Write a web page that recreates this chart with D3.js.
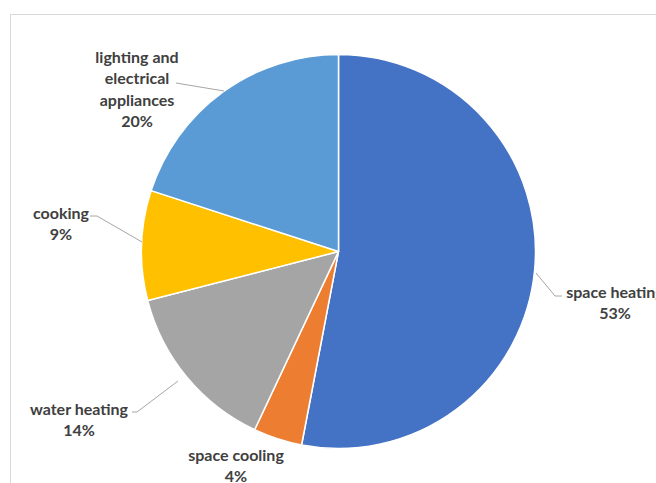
<!DOCTYPE html>
<html>
<head>
<meta charset="utf-8">
<script src="https://cdn.jsdelivr.net/npm/d3@7/dist/d3.min.js"></script>
<style>
  html, body { margin: 0; padding: 0; background: #fff; }
  svg { display: block; }
  .lbl { font-family: Lato, "Open Sans", sans-serif; font-weight: bold; font-size: 16px; fill: #404040; }
</style>
</head>
<body>
<svg id="chart" width="656" height="483"></svg>
<script>
// Household energy use by end use (share of total, %)
const categories = ["space heating", "space cooling", "water heating", "cooking", "lighting and electrical appliances"];
const shares = [53, 4, 14, 9, 20];
const colors = ["#4472C4", "#ED7D31", "#A5A5A5", "#FFC000", "#5B9BD5"];

// Label text lines and placement for each slice (centre of the text block,
// leader-line path points from text to slice edge)
const labelLines = [
  ["space heating"],
  ["space cooling"],
  ["water heating"],
  ["cooking"],
  ["lighting and", "electrical", "appliances"]
];
const labelLayout = [
  { x: 615, y: 292, leader: [[562, 296], [555, 296], [536, 273]] },
  { x: 236, y: 455, leader: null },
  { x: 79,  y: 409, leader: [[132, 412], [137, 412], [178, 381]] },
  { x: 61,  y: 213, leader: [[90, 216], [97, 216], [142, 242]] },
  { x: 137, y: 57,  leader: [[176, 83], [224, 91]] }
];

const svg = d3.select("#chart");
const W = 656, H = 483;
const cx = 338.5, cy = 251.5, R = 197;
const lineH = 21.5;

// chart area frame
svg.append("rect")
  .attr("x", 10.5).attr("y", 14.5)
  .attr("width", W + 20).attr("height", H + 20)
  .attr("fill", "none").attr("stroke", "#d9d9d9").attr("stroke-width", 1);

const pie = d3.pie().sort(null).value(d => d);
const arcs = pie(shares);
const arc = d3.arc().innerRadius(0).outerRadius(R);

const g = svg.append("g").attr("transform", `translate(${cx},${cy})`);
g.selectAll("path.slice")
  .data(arcs)
  .join("path")
  .attr("class", "slice")
  .attr("d", arc)
  .attr("fill", (d, i) => colors[i])
  .attr("stroke", "#fff")
  .attr("stroke-width", 1.5)
  .attr("stroke-linejoin", "round");

// leader lines
const line = d3.line();
svg.selectAll("path.leader")
  .data(labelLayout.filter(d => d.leader))
  .join("path")
  .attr("class", "leader")
  .attr("d", d => line(d.leader))
  .attr("fill", "none")
  .attr("stroke", "#a6a6a6")
  .attr("stroke-width", 1);

// labels: name lines followed by percentage
labelLayout.forEach((L, i) => {
  const lines = labelLines[i].concat([shares[i] + "%"]);
  const t = svg.append("text")
    .attr("class", "lbl")
    .attr("text-anchor", "middle");
  lines.forEach((s, k) => {
    t.append("tspan")
      .attr("x", L.x)
      .attr("y", L.y + k * lineH)
      .attr("dy", "0.35em")
      .text(s);
  });
});
</script>
</body>
</html>
